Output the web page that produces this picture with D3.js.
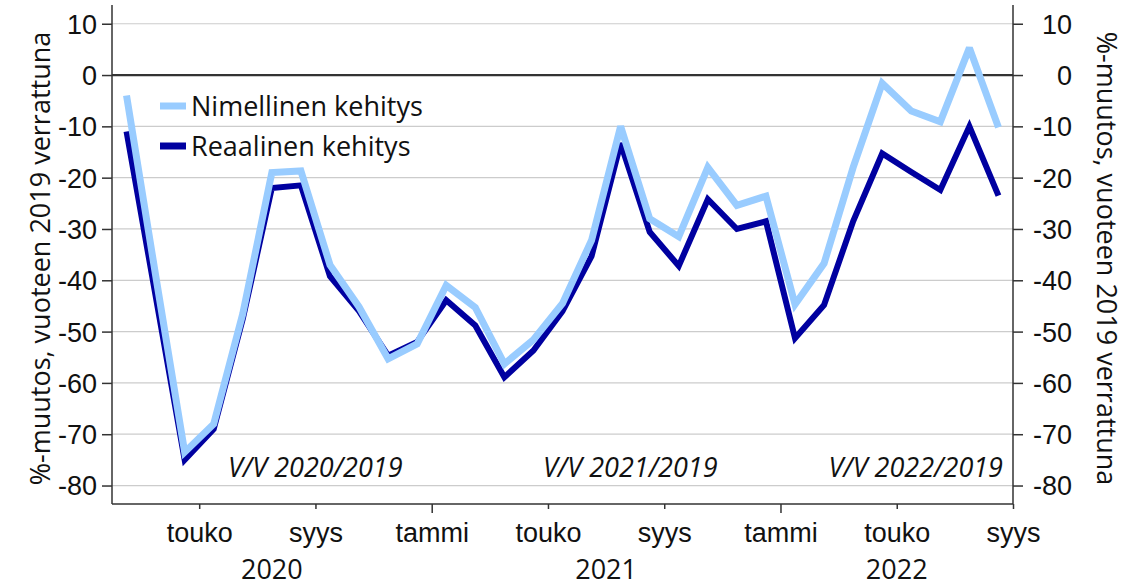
<!DOCTYPE html>
<html>
<head>
<meta charset="utf-8">
<script src="https://cdn.jsdelivr.net/npm/d3@7"></script>
<style>
        body { margin: 0; background: #fff; }
        svg { display: block; font-family: "Open Sans", "Noto Sans", sans-serif; }
        .grid line { stroke: #cccccc; stroke-width: 1.2; }
        .axis path, .axis line { stroke: #333; stroke-width: 1.5; }
        .axis text { fill: #111; font-size: 27px; }
</style>
</head>
<body>
<svg width="1133" height="588"></svg>
<script>
// months Feb 2020 .. Aug 2022, one point per month
var months = ["2020-02","2020-03","2020-04","2020-05","2020-06","2020-07","2020-08","2020-09","2020-10","2020-11","2020-12",
              "2021-01","2021-02","2021-03","2021-04","2021-05","2021-06","2021-07","2021-08","2021-09","2021-10","2021-11","2021-12",
              "2022-01","2022-02","2022-03","2022-04","2022-05","2022-06","2022-07","2022-08"];

var nominal = [-4, -39, -73.5, -68, -46.5, -19, -18.7, -37, -45.2, -55.3, -52.4,
               -41, -45.3, -56.3, -51.6, -44.5, -32.2, -10, -28, -31.5, -18, -25.4, -23.6,
               -44.7, -36.7, -18, -1.6, -7, -9.1, 5.3, -10.2];

var real    = [-11, -43, -75, -69, -47.5, -22, -21.5, -39.2, -46, -54.7, -52,
               -43.9, -48.8, -58.9, -53.7, -46, -35.3, -13.3, -30.6, -37.2, -24.2, -30, -28.5,
               -51.3, -44.8, -28.5, -15.3, -18.9, -22.4, -10, -23.5];

// month boundaries (index into months) where ticks sit
var tickMonths = [3, 7, 11, 15, 19, 23, 27, 31];
var tickLabels = ["touko", "syys", "tammi", "touko", "syys", "tammi", "touko", "syys"];

var years     = ["2020", "2021", "2022"];
var yearSpans = [[0, 11], [11, 23], [23, 31]];

var yTicks = [10, 0, -10, -20, -30, -40, -50, -60, -70, -80];

var seriesNames  = ["Reaalinen kehitys", "Nimellinen kehitys"];
var seriesColors = ["#0000a0", "#99ccff"];

var notes = ["V/V 2020/2019", "V/V 2021/2019", "V/V 2022/2019"];

var yTitle = "%-muutos, vuoteen 2019 verrattuna";

var svg = d3.select("svg");

var pLeft = 112, pRight = 1013, pTop = 5, pBottom = 504;

var x = d3.scaleLinear().domain([0, months.length]).range([pLeft, pRight]);
var y = d3.scaleLinear().domain([-83.6, 13.65]).range([pBottom, pTop]);

svg.append("rect").attr("width", 1133).attr("height", 588).attr("fill", "#fff");

/* grid lines */
svg.append("g")
        .attr("class", "grid")
        .selectAll("line")
        .data(yTicks.filter(function(d) { return d !== 0; }))
        .enter().append("line")
        .attr("x1", pLeft).attr("x2", pRight)
        .attr("y1", function(d) { return y(d); })
        .attr("y2", function(d) { return y(d); });

/* zero line */
svg.append("line")
        .attr("x1", pLeft).attr("x2", pRight)
        .attr("y1", y(0)).attr("y2", y(0))
        .attr("stroke", "#333").attr("stroke-width", 2.2);

/* y axes */
var yl = svg.append("g")
        .attr("class", "axis")
        .attr("transform", "translate(" + pLeft + ",0)")
        .call(d3.axisLeft(y).tickValues(yTicks).tickSize(10).tickPadding(5)
                .tickFormat(function(d) { return String(d); }));

var yr = svg.append("g")
        .attr("class", "axis")
        .attr("transform", "translate(" + pRight + ",0)")
        .call(d3.axisRight(y).tickValues(yTicks).tickSize(10).tickPadding(5)
                .tickFormat(function(d) { return String(d); }));
yr.selectAll("text").attr("text-anchor", "end").attr("x", 59);

[yl, yr].forEach(function(a) {
        a.select(".domain").attr("d", "M0," + pTop + "V" + pBottom);
        a.selectAll("text").attr("dy", "0.35em");
});

/* x axis */
var xa = svg.append("g")
        .attr("class", "axis")
        .attr("transform", "translate(0," + pBottom + ")")
        .call(d3.axisBottom(x).tickValues(tickMonths).tickSize(5).tickPadding(14)
                .tickFormat(function(d, i) { return tickLabels[i]; }));
xa.select(".domain").attr("d", "M" + pLeft + ",0H" + pRight);
xa.selectAll(".tick line")
        .attr("y2", function(d, i) { return tickLabels[i] === "tammi" ? 9 : 5; });

svg.append("g")
        .selectAll("text")
        .data(years)
        .enter().append("text")
        .attr("x", function(d, i) { return x((yearSpans[i][0] + yearSpans[i][1]) / 2); })
        .attr("y", 579)
        .attr("text-anchor", "middle")
        .attr("font-size", 27)
        .attr("fill", "#111")
        .text(function(d) { return d; });

/* axis titles */
svg.append("text")
        .attr("transform", "translate(50," + ((pTop + pBottom) / 2 + 4) + ") rotate(-90)")
        .attr("text-anchor", "middle")
        .attr("font-size", 27)
        .attr("fill", "#111")
        .text(yTitle);

svg.append("text")
        .attr("transform", "translate(1097," + ((pTop + pBottom) / 2 + 4) + ") rotate(90)")
        .attr("text-anchor", "middle")
        .attr("font-size", 27)
        .attr("fill", "#111")
        .text(yTitle);

/* notes */
var noteX = [228, 543, 1003];
var noteAnchor = ["start", "start", "end"];
svg.append("g")
        .selectAll("text")
        .data(notes)
        .enter().append("text")
        .attr("x", function(d, i) { return noteX[i]; })
        .attr("y", 477)
        .attr("text-anchor", function(d, i) { return noteAnchor[i]; })
        .attr("font-size", 27)
        .attr("font-style", "italic")
        .attr("fill", "#111")
        .text(function(d) { return d; });

/* lines */
var line = d3.line()
        .x(function(d, i) { return x(i + 0.5); })
        .y(function(d) { return y(d); });

var series = [real, nominal];
var widths = [6, 7];

svg.append("g")
        .selectAll("path")
        .data(series)
        .enter().append("path")
        .attr("d", line)
        .attr("fill", "none")
        .attr("stroke", function(d, i) { return seriesColors[i]; })
        .attr("stroke-width", function(d, i) { return widths[i]; })
        .attr("stroke-linejoin", "miter")
        .attr("stroke-miterlimit", 2.5);

/* legend */
var legendNames = [seriesNames[1], seriesNames[0]];
var legendColors = [seriesColors[1], seriesColors[0]];
var lg = svg.append("g").selectAll("g")
        .data(legendNames)
        .enter().append("g")
        .attr("transform", function(d, i) { return "translate(160," + (106 + i * 40) + ")"; });

lg.append("line")
        .attr("x1", 0).attr("x2", 26)
        .attr("stroke", function(d, i) { return legendColors[i]; })
        .attr("stroke-width", 7);

lg.append("text")
        .attr("x", 31)
        .attr("y", 10)
        .attr("font-size", 27)
        .attr("fill", "#111")
        .text(function(d) { return d; });
</script>
</body>
</html>
